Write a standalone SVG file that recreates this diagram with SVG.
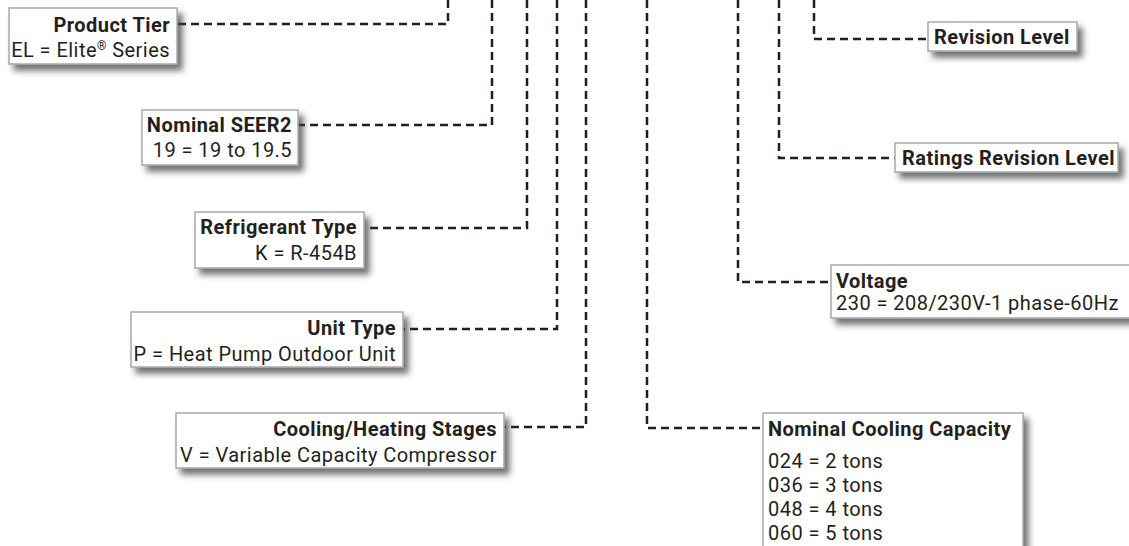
<svg xmlns="http://www.w3.org/2000/svg" width="1129" height="546" viewBox="0 0 1129 546">
<defs>
<filter id="sh" x="-10%" y="-20%" width="130%" height="160%">
<feDropShadow dx="5" dy="6" stdDeviation="3" flood-color="#444" flood-opacity="0.75"/>
</filter>
<style>
.box{fill:#fff;stroke:#a7a9ac;stroke-width:1.5;filter:url(#sh)}
.t{font-family:Roboto,"Liberation Sans",sans-serif;font-size:20px;letter-spacing:0.45px;fill:#231f20}
.b{font-weight:bold}
.e{text-anchor:end}
.c{fill:none;stroke:#231f20;stroke-width:2.5;stroke-dasharray:8 5}
</style>
</defs>
<rect width="1129" height="546" fill="#fff"/>
<g id="connectors">
<path class="c" d="M448,0 V24 H177"/>
<path class="c" d="M492,0 V125 H298"/>
<path class="c" d="M527,0 V228 H364"/>
<path class="c" d="M557,0 V329 H403"/>
<path class="c" d="M586,0 V427 H504"/>
<path class="c" d="M647,0 V428 H763"/>
<path class="c" d="M738,0 V282 H831"/>
<path class="c" d="M779,0 V158 H895"/>
<path class="c" d="M814,0 V39 H928"/>
</g>
<g id="product-tier">
<rect class="box" x="9" y="8" width="168" height="56"/>
<text class="t b e" x="170" y="32">Product Tier</text>
<text class="t e" x="170" y="57">EL = Elite<tspan font-size="12" dy="-7">®</tspan><tspan dy="7"> Series</tspan></text>
</g>
<g id="nominal-seer2">
<rect class="box" x="142" y="110" width="156" height="55"/>
<text class="t b e" x="292" y="132">Nominal SEER2</text>
<text class="t e" x="292" y="157">19 = 19 to 19.5</text>
</g>
<g id="refrigerant-type">
<rect class="box" x="195" y="212" width="169" height="56"/>
<text class="t b e" x="357" y="234">Refrigerant Type</text>
<text class="t e" x="357" y="260">K = R-454B</text>
</g>
<g id="unit-type">
<rect class="box" x="131" y="312" width="272" height="55"/>
<text class="t b e" x="396" y="335">Unit Type</text>
<text class="t e" x="396" y="361">P = Heat Pump Outdoor Unit</text>
</g>
<g id="stages">
<rect class="box" x="176" y="413" width="328" height="55"/>
<text class="t b e" x="497" y="436">Cooling/Heating Stages</text>
<text class="t e" x="497" y="462">V = Variable Capacity Compressor</text>
</g>
<g id="revision-level">
<rect class="box" x="928" y="22" width="149" height="29"/>
<text class="t b" x="934" y="44">Revision Level</text>
</g>
<g id="ratings-revision-level">
<rect class="box" x="895" y="143" width="223" height="29"/>
<text class="t b" x="902" y="165">Ratings Revision Level</text>
</g>
<g id="voltage">
<rect class="box" x="831" y="265" width="310" height="53"/>
<text class="t b" x="836" y="288">Voltage</text>
<text class="t" x="836" y="310">230 = 208/230V-1 phase-60Hz</text>
</g>
<g id="cooling-capacity">
<rect class="box" x="763" y="413" width="260" height="150"/>
<text class="t b" x="768" y="436">Nominal Cooling Capacity</text>
<text class="t" x="768" y="468">024 = 2 tons</text>
<text class="t" x="768" y="492">036 = 3 tons</text>
<text class="t" x="768" y="516">048 = 4 tons</text>
<text class="t" x="768" y="540">060 = 5 tons</text>
</g>
</svg>
